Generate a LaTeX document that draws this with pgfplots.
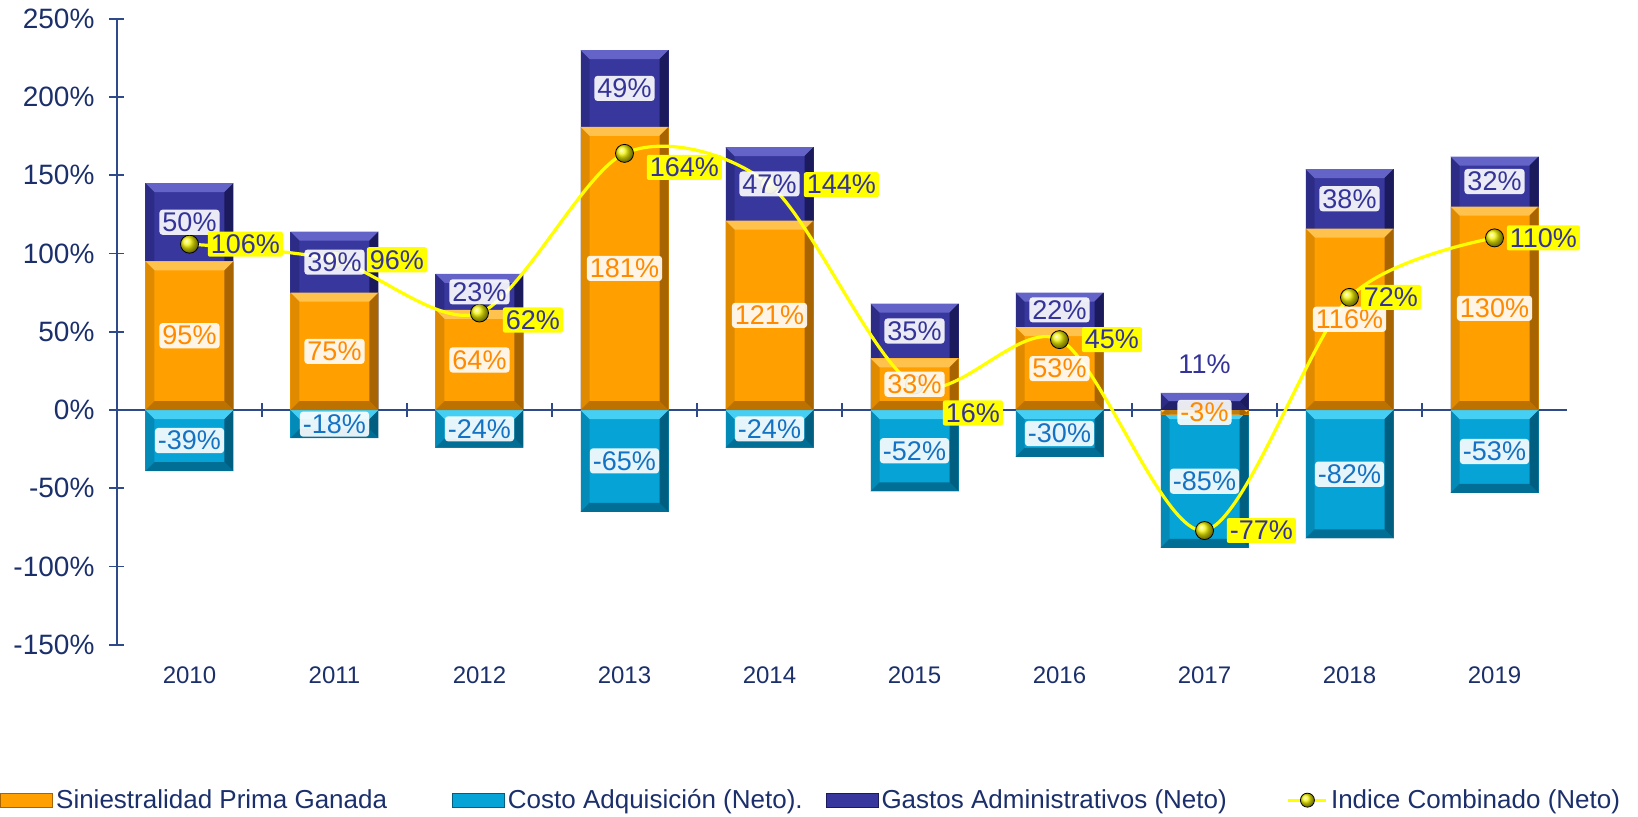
\documentclass[border=0pt]{standalone}
\usepackage{fontspec}
\setmainfont{Liberation Sans}
\usepackage{pgfplots}
\usepackage{pgfplotstable}
\pgfplotsset{compat=1.18}

\definecolor{naranja}{HTML}{FF9F00}
\definecolor{naranjaL}{HTML}{FFC24D}
\definecolor{naranjaD}{HTML}{A86400}
\definecolor{naranjaT}{HTML}{FF8A00}
\definecolor{celeste}{HTML}{06A3D6}
\definecolor{celesteL}{HTML}{45CFF5}
\definecolor{celesteD}{HTML}{005E80}
\definecolor{celesteT}{HTML}{1472C4}
\definecolor{morado}{HTML}{37379E}
\definecolor{moradoL}{HTML}{6363C8}
\definecolor{moradoD}{HTML}{1A1A5C}
\definecolor{moradoT}{HTML}{333399}
\definecolor{amarillo}{HTML}{FFFF00}
\definecolor{ejes}{HTML}{2E4A8B}
\definecolor{texto}{HTML}{1B2F6B}

% o: siniestralidad, c: costo adq., g: gastos adm., t: indice combinado
% dx, dy: desplazamiento de la etiqueta del indice (pt)
\pgfplotstableread{
x o c g t dx dy
0 95 -39 50 106 9 0
1 75 -18 39 96 16 0
2 64 -24 23 62 11.5 -3.5
3 181 -65 49 164 11 -7
4 121 -24 47 144 17 0
5 33 -52 35 16 14 -14
6 53 -30 22 45 11 0
7 -3 -85 11 -77 11 0
8 116 -82 38 72 5.5 0
9 130 -53 32 110 6 0
}\datos

\tikzset{
  etq/.style={fill=white, fill opacity=0.9, text opacity=1, inner sep=1.5pt,
    rounded corners=1.5pt, font=\fontsize{13.5}{15}\selectfont},
  % relieve de las barras (claro arriba, oscuro a la derecha y abajo)
  bisel/.style 2 args={path picture={
    \tikzset{path picture={}}
    \fill[#1, path picture={}] (path picture bounding box.north west) -- (path picture bounding box.north east)
      -- ([shift={(-4.5pt,-4.5pt)}]path picture bounding box.north east)
      -- ([shift={(4.5pt,-4.5pt)}]path picture bounding box.north west) -- cycle;
    \fill[#2, opacity=0.35, path picture={}] (path picture bounding box.north west) -- (path picture bounding box.south west)
      -- ([shift={(4.5pt,4.5pt)}]path picture bounding box.south west)
      -- ([shift={(4.5pt,-4.5pt)}]path picture bounding box.north west) -- cycle;
    \fill[#2, path picture={}] (path picture bounding box.north east) -- (path picture bounding box.south east)
      -- ([shift={(-4.5pt,4.5pt)}]path picture bounding box.south east)
      -- ([shift={(-4.5pt,-4.5pt)}]path picture bounding box.north east) -- cycle;
    \fill[#2, opacity=0.75, path picture={}] (path picture bounding box.south west) -- (path picture bounding box.south east)
      -- ([shift={(-4.5pt,4.5pt)}]path picture bounding box.south east)
      -- ([shift={(4.5pt,4.5pt)}]path picture bounding box.south west) -- cycle;
  }},
}

\pgfplotsset{
  barleg/.style={legend image code/.code={\draw[##1] (0pt,-3.5pt) rectangle (26pt,3.5pt);}},
  lineleg/.style={legend image code/.code={
    \draw[amarillo, line width=1.6pt] (0pt,0pt) -- (19pt,0pt);
    \shade[ball color=amarillo!95!black] (9.5pt,0pt) circle (3.5pt);}},
}

\begin{document}
\begin{tikzpicture}
\begin{axis}[
  name=ax,
  scale only axis, width=725pt, height=313pt,
  xmin=-0.5, xmax=9.5, ymin=-150, ymax=250,
  axis y line*=left, axis x line*=bottom,
  x axis line style={draw=none},
  y axis line style={ejes, line width=0.8pt},
  xtick={0,...,9},
  xticklabels={2010,2011,2012,2013,2014,2015,2016,2017,2018,2019},
  xtick style={draw=none},
  ytick={-150,-100,...,250},
  ytick style={ejes, line width=0.8pt},
  tick align=center, major tick length=7.5pt,
  yticklabel={\pgfmathprintnumber{\tick}\%},
  /pgf/number format/assume math mode=true,
  yticklabel style={font=\fontsize{14}{16}\selectfont, text=texto, xshift=-4pt},
  xticklabel style={font=\fontsize{12}{14}\selectfont, text=texto, yshift=-3.5pt},
  clip=false,
  legend columns=4,
  legend style={at={(-0.0807,-0.2482)}, anchor=west, draw=none, fill=none,
    font=\fontsize{13}{15}\selectfont, text=texto, inner sep=0pt,
    column sep=0pt, nodes={inner sep=1.5pt},
    /tikz/column 2/.style={column sep=31pt},
    /tikz/column 4/.style={column sep=10pt},
    /tikz/column 6/.style={column sep=28.5pt}},
]
\addlegendimage{barleg, fill=naranja, draw=naranjaD}
\addlegendentry{Siniestralidad Prima Ganada}
\addlegendimage{barleg, fill=celeste, draw=celesteD}
\addlegendentry{Costo Adquisición (Neto).}
\addlegendimage{barleg, fill=morado, draw=moradoD}
\addlegendentry{Gastos Administrativos (Neto)}
\addlegendimage{lineleg}
\addlegendentry{Indice Combinado (Neto)}

% linea del cero con sus marcas
\draw[ejes, line width=0.8pt] (axis cs:-0.5,0) -- (axis cs:9.5,0);
\pgfplotsinvokeforeach{0.5,1.5,...,8.5}{
  \draw[ejes, line width=0.8pt] ([yshift=-3.5pt]axis cs:#1,0) -- ([yshift=3.5pt]axis cs:#1,0);
}

% barras, una por anio para que cada una tenga su relieve:
% gastos sobre la parte positiva, costo bajo la negativa
\pgfplotsinvokeforeach{0,...,9}{
\addplot[ybar, bar width=44pt, bar shift=0pt, fill=morado, draw=none,
  bisel={moradoL}{moradoD}, restrict x to domain=#1:#1, forget plot]
  table[x=x, y expr={max(\thisrow{o},0)+\thisrow{g}}]{\datos};
\addplot[ybar, bar width=44pt, bar shift=0pt, fill=celeste, draw=none,
  bisel={celesteL}{celesteD}, restrict x to domain=#1:#1, forget plot]
  table[x=x, y expr={min(\thisrow{o},0)+\thisrow{c}}]{\datos};
\addplot[ybar, bar width=44pt, bar shift=0pt, fill=naranja, draw=none,
  bisel={naranjaL}{naranjaD}, restrict x to domain=#1:#1, forget plot]
  table[x=x, y=o]{\datos};
}

% indice combinado
\addplot[amarillo, line width=1.6pt, smooth, forget plot] table[x=x, y=t]{\datos};
\addplot[only marks, mark=ball, mark size=4.5pt, ball color=amarillo!95!black, forget plot]
  table[x=x, y=t]{\datos};

% etiquetas de las barras
\addplot[draw=none, forget plot, point meta=explicit symbolic,
  nodes near coords={\pgfplotspointmeta\%},
  every node near coord/.append style={etq, text=naranjaT, anchor=center}]
  table[x=x, y expr={\thisrow{o}/2}, meta=o]{\datos};
\addplot[draw=none, forget plot, point meta=explicit symbolic,
  nodes near coords={\pgfplotspointmeta\%},
  every node near coord/.append style={etq, text=celesteT, anchor=center}]
  table[x=x, y expr={min(\thisrow{o},0)+\thisrow{c}/2}, meta=c]{\datos};
\addplot[draw=none, forget plot, point meta=explicit symbolic,
  nodes near coords={\pgfplotspointmeta\%},
  every node near coord/.append style={etq, text=moradoT, anchor=center}]
  table[x=x, y expr={\thisrow{g}<15 ? max(\thisrow{o},0)+\thisrow{g}+18 : max(\thisrow{o},0)+\thisrow{g}/2}, meta=g]{\datos};

% etiquetas del indice
\addplot[draw=none, forget plot, point meta=explicit symbolic,
  visualization depends on={\thisrow{dx} \as \dx},
  visualization depends on={\thisrow{dy} \as \dy},
  nodes near coords={\pgfplotspointmeta\%},
  every node near coord/.append style={anchor=west, xshift=\dx, yshift=\dy,
    fill=amarillo, text=moradoT, inner sep=1.5pt, rounded corners=1pt,
    font=\fontsize{13.5}{15}\selectfont}]
  table[x=x, y=t, meta=t]{\datos};
\end{axis}
\path ([shift={(-58.5pt,-85.7pt)}]ax.south west) rectangle ([shift={(35.5pt,9.4pt)}]ax.north east);
\end{tikzpicture}
\end{document}
